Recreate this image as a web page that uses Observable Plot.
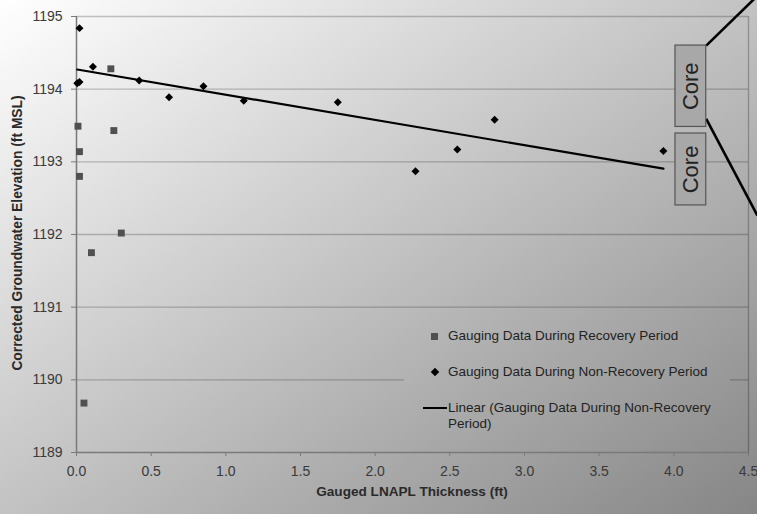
<!DOCTYPE html>
<html>
<head>
<meta charset="utf-8">
<script src="https://cdn.jsdelivr.net/npm/d3@7"></script>
<script src="https://cdn.jsdelivr.net/npm/@observablehq/plot@0.6"></script>
<style>
html, body { margin: 0; padding: 0; }
#wrap {
  position: relative; width: 757px; height: 514px; overflow: hidden;
  background: linear-gradient(to bottom right, #ffffff, #868686);
  font-family: "Liberation Sans", Arial, sans-serif;
}
#chart { position: absolute; left: 0; top: 0; }
.xtitle { position: absolute; left: 0; width: 824px; top: 484px; text-align: center; font-weight: bold; font-size: 13.6px; color: #2a2a2a; }
.ytitle { position: absolute; left: 17px; top: 233px; transform: translate(-50%, -50%) rotate(-90deg); white-space: nowrap; font-weight: bold; font-size: 13.8px; color: #2a2a2a; }
#legend {
  position: absolute; left: 404px; top: 322px; width: 326px; height: 118px;
  background-image: linear-gradient(to bottom right, #ffffff, #868686);
  background-size: 757px 514px; background-position: -404px -322px;
  font-size: 13.5px; color: #222;
}
.lt { position: absolute; left: 44px; white-space: nowrap; line-height: 16px; }
.sq { position: absolute; width: 7px; height: 7px; background: #505050; }
.dm { position: absolute; width: 6px; height: 6px; background: #000; transform: rotate(45deg); }
.ln { position: absolute; height: 2px; background: #000; }
#chart svg text { font-size: 14px; }
</style>
</head>
<body>
<div id="wrap">
  <div id="chart"></div>
  <div class="ytitle">Corrected Groundwater Elevation (ft MSL)</div>
  <div class="xtitle">Gauged LNAPL Thickness (ft)</div>
  <div id="legend"></div>
</div>
<script>
// Gauging data during recovery period (squares)
const recoveryThickness = [0.23, 0.01, 0.25, 0.02, 0.02, 0.30, 0.10, 0.05];
const recoveryElevation = [1194.28, 1193.49, 1193.43, 1193.14, 1192.80, 1192.02, 1191.75, 1189.68];

// Gauging data during non-recovery period (diamonds)
const nonRecoveryThickness = [0.02, 0.005, 0.02, 0.11, 0.42, 0.62, 0.85, 1.12, 1.75, 2.27, 2.55, 2.80, 3.93];
const nonRecoveryElevation = [1194.84, 1194.08, 1194.10, 1194.31, 1194.12, 1193.89, 1194.04, 1193.84, 1193.82, 1192.87, 1193.17, 1193.58, 1193.15];

// Axis ticks
const xTicks = [0, 0.5, 1, 1.5, 2, 2.5, 3, 3.5, 4, 4.5];
const yTicks = [1189, 1190, 1191, 1192, 1193, 1194, 1195];

// "Core" annotation boxes (data units)
const coreLabels = ["Core", "Core"];
const coreX1 = [4.011, 4.011];
const coreX2 = [4.217, 4.217];
const coreYTop = [1194.60, 1193.39];
const coreYBottom = [1193.48, 1192.40];

// Annotation lines leaving the top box (data units)
const lineX1 = [4.217, 4.217];
const lineY1 = [1194.60, 1193.59];
const lineX2 = [4.560, 4.560];
const lineY2 = [1195.285, 1192.26];

// Legend entries
const legendLabels = [
  "Gauging Data During Recovery Period",
  "Gauging Data During Non-Recovery Period",
  "Linear (Gauging Data During Non-Recovery<br>Period)"
];

const rec = recoveryThickness.map((x, i) => ({x, y: recoveryElevation[i]}));
const non = nonRecoveryThickness.map((x, i) => ({x, y: nonRecoveryElevation[i]}));
const core = coreLabels.map((label, i) => ({label, x1: coreX1[i], x2: coreX2[i], y1: coreYTop[i], y2: coreYBottom[i]}));
const links = lineX1.map((x1, i) => ({x1, y1: lineY1[i], x2: lineX2[i], y2: lineY2[i]}));

const plot = Plot.plot({
  width: 757, height: 514,
  marginLeft: 76, marginRight: 9, marginTop: 16, marginBottom: 62,
  x: {domain: [0, 4.5]},
  y: {domain: [1189, 1195]},
  style: {background: "transparent", fontFamily: "'Liberation Sans', Arial, sans-serif", fontSize: "14px", color: "#3a3a3a", overflow: "visible"},
  marks: [
    Plot.ruleY(yTicks.filter(d => d > 1189), {stroke: "#000", strokeOpacity: 0.22, strokeWidth: 1.3}),
    Plot.ruleX([4.5], {stroke: "#000", strokeOpacity: 0.25, strokeWidth: 1.3}),
    Plot.axisY({ticks: yTicks, tickSize: 5, tickPadding: 9, tickFormat: d => String(d), label: null, stroke: "#7a7a7a"}),
    Plot.axisX({ticks: xTicks, tickSize: 4, tickPadding: 10, tickFormat: d3.format(".1f"), label: null, stroke: "#7a7a7a"}),
    Plot.ruleX([0], {stroke: "#7a7a7a", strokeWidth: 1.5}),
    Plot.ruleY([1189], {stroke: "#7a7a7a", strokeWidth: 1.5}),
    Plot.dot(rec, {x: "x", y: "y", symbol: "square", r: 3.9, fill: "#505050", stroke: "none"}),
    Plot.dot(non, {x: "x", y: "y", symbol: "diamond2", r: 3.6, fill: "#000", stroke: "none"}),
    Plot.linearRegressionY(non, {x: "x", y: "y", stroke: "#000", strokeWidth: 2.2, ci: 0}),
    Plot.link(links, {x1: "x1", y1: "y1", x2: "x2", y2: "y2", stroke: "#000", strokeWidth: 2.6}),
    Plot.rect(core, {x1: "x1", x2: "x2", y1: "y1", y2: "y2", fill: "#a8a8a8", stroke: "#555", strokeWidth: 1.2}),
    Plot.text(core, {x: d => (d.x1 + d.x2) / 2, y: d => (d.y1 + d.y2) / 2, text: "label", rotate: -90, fontSize: 22, fill: "#222"})
  ]
});
document.getElementById("chart").appendChild(plot);
// keep the Core labels at their own size
plot.querySelectorAll("text").forEach(t => { if (t.textContent === "Core") t.style.fontSize = "22px"; });

// Legend (HTML overlay)
const lg = document.getElementById("legend");
const rows = [14, 50, 86];
lg.innerHTML =
  `<div class="sq" style="left:27px;top:${rows[0]-3.5}px"></div>` +
  `<div class="lt" style="top:${rows[0]-8}px">${legendLabels[0]}</div>` +
  `<div class="dm" style="left:28px;top:${rows[1]-3}px"></div>` +
  `<div class="lt" style="top:${rows[1]-8}px">${legendLabels[1]}</div>` +
  `<div class="ln" style="left:19px;width:24px;top:${rows[2]-1}px"></div>` +
  `<div class="lt" style="top:${rows[2]-8}px">${legendLabels[2]}</div>`;
</script>
</body>
</html>
